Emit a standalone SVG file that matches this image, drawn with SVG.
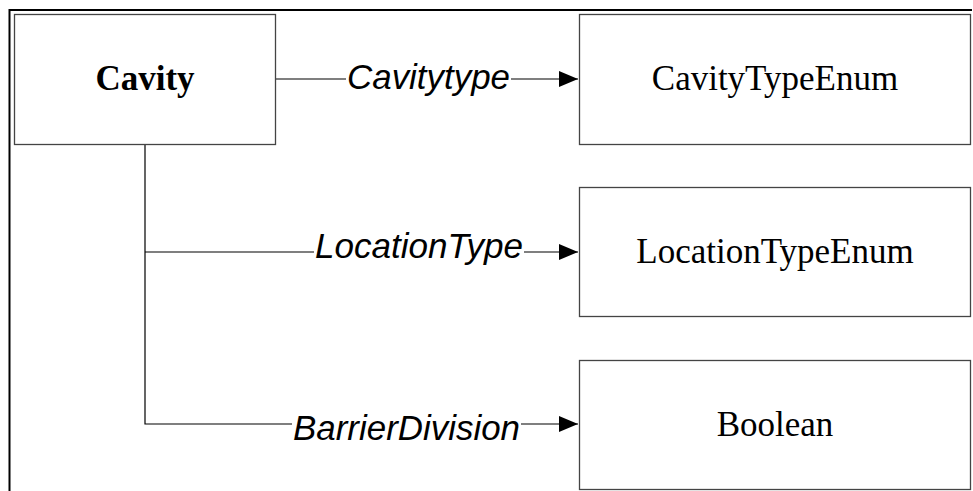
<svg xmlns="http://www.w3.org/2000/svg" width="973" height="491" viewBox="0 0 973 491">
<style>
.box{fill:#fff;stroke:#444;stroke-width:1.3}
.node{font-family:"Liberation Serif","Times New Roman",serif;font-size:35px;fill:#000;text-anchor:middle}
.lbl{font-family:"Liberation Sans",Arial,sans-serif;font-size:35px;font-style:italic;fill:#000}
.conn{stroke:#000;stroke-width:1.2;fill:none}
.frame{stroke:#000;stroke-width:2;fill:none}
</style>
<defs>
<marker id="arr" markerWidth="20" markerHeight="16" refX="19" refY="8" orient="auto" markerUnits="userSpaceOnUse">
<path d="M0,0 L19,8 L0,16 Z" fill="#000"/>
</marker>
</defs>
<path class="frame" d="M9.5,491 V10 H972"/>
<g id="connectors">
<path class="conn" d="M276,79 H346"/>
<path class="conn" d="M511,79 H578" marker-end="url(#arr)"/>
<text class="lbl" x="347" y="89" textLength="163" lengthAdjust="spacingAndGlyphs">Cavitytype</text>
<path class="conn" d="M145,144 V424 H292"/>
<path class="conn" d="M145,252 H314"/>
<path class="conn" d="M524,252 H578" marker-end="url(#arr)"/>
<text class="lbl" x="315" y="258" textLength="208" lengthAdjust="spacingAndGlyphs">LocationType</text>
<path class="conn" d="M521,424 H578" marker-end="url(#arr)"/>
<text class="lbl" x="293" y="440" textLength="227" lengthAdjust="spacingAndGlyphs">BarrierDivision</text>
</g>
<g id="cavity">
<rect class="box" x="14.5" y="14.5" width="261" height="130"/>
<text class="node" x="145" y="90" font-weight="bold" font-size="34">Cavity</text>
</g>
<g id="cavityTypeEnum">
<rect class="box" x="579.5" y="14.5" width="391" height="130"/>
<text class="node" x="775" y="90">CavityTypeEnum</text>
</g>
<g id="locationTypeEnum">
<rect class="box" x="579.5" y="187.5" width="391" height="129"/>
<text class="node" x="775" y="263">LocationTypeEnum</text>
</g>
<g id="boolean">
<rect class="box" x="579.5" y="360.5" width="391" height="129"/>
<text class="node" x="775" y="436">Boolean</text>
</g>
</svg>
